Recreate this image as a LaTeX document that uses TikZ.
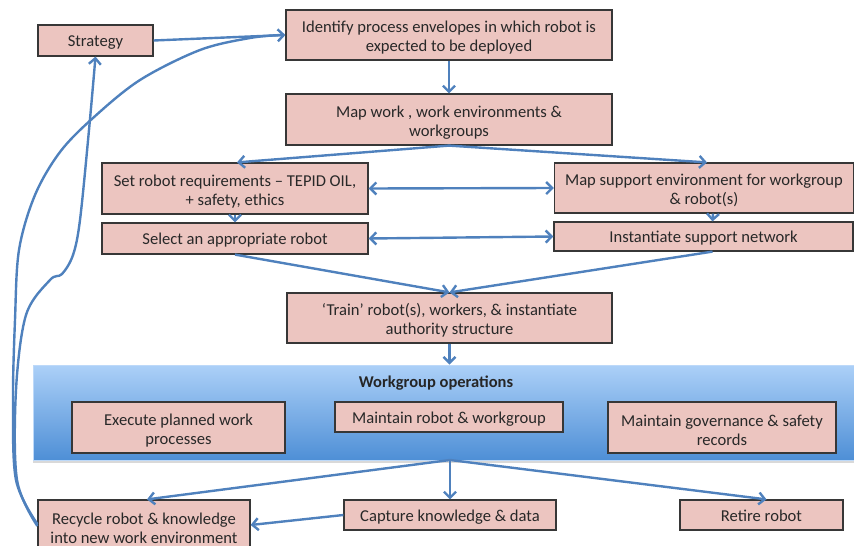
\documentclass[tikz,border=0pt]{standalone}
\usepackage{fontspec}
\setmainfont{Carlito}
\usetikzlibrary{arrows.meta,shadows,calc}
\definecolor{boxfill}{RGB}{236,197,192}
\definecolor{boxborder}{RGB}{55,55,55}
\definecolor{arrowblue}{RGB}{79,129,189}
\definecolor{textcol}{RGB}{40,40,40}
\definecolor{bandtop}{RGB}{172,208,248}
\definecolor{bandbot}{RGB}{78,143,214}
\newcommand\upstrut{\rule{0pt}{17pt}}
\tikzset{
  box/.style={draw=boxborder, fill=boxfill, line width=1.2pt, align=center,
    inner sep=1pt, text=textcol, font=\fontsize{16.6}{19}\selectfont},
  box1/.style={box, execute at begin node={\rule{0pt}{16pt}},
    execute at end node={\rule[-4pt]{0pt}{4pt}}},
  arr/.style={draw=arrowblue, line width=2.4pt,
    -{Straight Barb[length=6pt,width=12pt]}},
  darr/.style={draw=arrowblue, line width=2.4pt,
    {Straight Barb[length=6pt,width=12pt]}-{Straight Barb[length=6pt,width=12pt]}},
  curve/.style={draw=arrowblue, line width=2.4pt},
  band/.style={top color=bandtop, bottom color=bandbot, draw=bandtop!80!white,
    line width=0.8pt, inner sep=0pt,
    drop shadow={shadow xshift=0pt, shadow yshift=-3pt, opacity=0.3}},
}
\begin{document}
\begin{tikzpicture}[x=1pt,y=-1pt]
\useasboundingbox (0,0) rectangle (854,546);

% workgroup band
\node[band, minimum width=837pt, minimum height=95pt] (band) at (451.5,412.5) {};
\node[font=\fontsize{16.5}{19}\selectfont\bfseries, text=black!85] (wgtitle) at (436,383) {Workgroup operations};

% boxes
\node[box1, minimum width=115pt, minimum height=31pt] (strategy) at (95.5,40.5) {Strategy};
\node[box, minimum width=326pt, minimum height=50pt] (identify) at (449,35) {\upstrut Identify process envelopes in which robot is\\expected to be deployed};
\node[box, minimum width=326pt, minimum height=51pt] (mapwork) at (449,119.5) {\upstrut Map work , work environments \&\\workgroups};
\node[box, minimum width=266pt, minimum height=51pt] (setreq) at (235,188.5) {\upstrut Set robot requirements -- TEPID OIL,\\+ safety, ethics};
\node[box1, minimum width=266pt, minimum height=31pt] (select) at (235,238.5) {Select an appropriate robot};
\node[box, minimum width=299pt, minimum height=50pt] (mapsup) at (704,188) {\upstrut Map support environment for workgroup\\\& robot(s)};
\node[box1, minimum width=299pt, minimum height=29pt] (inst) at (703.5,236.5) {Instantiate support network};
\node[box, minimum width=325pt, minimum height=50pt] (train) at (449.5,318) {\upstrut `Train' robot(s), workers, \& instantiate\\authority structure};
\node[box, minimum width=213pt, minimum height=51pt] (execute) at (178.5,427.5) {\upstrut Execute planned work\\processes};
\node[box1, minimum width=228pt, minimum height=30pt] (maintain) at (449,417) {Maintain robot \& workgroup};
\node[box, minimum width=228pt, minimum height=51pt] (govern) at (722,427.5) {\upstrut Maintain governance \& safety\\records};
\node[box, minimum width=212pt, minimum height=56pt] (recycle) at (144,528) {Recycle robot \& knowledge\\into new work environment};
\node[box1, minimum width=212pt, minimum height=30pt] (capture) at (450,515) {Capture knowledge \& data};
\node[box1, minimum width=163pt, minimum height=30pt] (retire) at (761.5,515) {Retire robot};

\coordinate (bs) at (450,460);

% connectors
\draw[arr] (strategy.east) -- (identify.west);
\draw[arr] (identify.south) -- (mapwork.north);
\draw[arr] (mapwork.south) -- ($(setreq.north)+(2,0)$);
\draw[arr] (mapwork.south) -- ($(mapsup.north)+(3,0)$);
\draw[darr] (setreq.east) -- (mapsup.west);
\draw[arr] (setreq.south) -- (select.north);
\draw[darr] (select.east) -- (inst.west);
\draw[arr] ($(mapsup.south)+(9,0)$) -- ($(inst.north)+(9,0)$);
\draw[arr] (select.south) -- (train.north);
\draw[arr] ($(inst.south)+(9,0)$) -- (train.north);
\draw[arr] (train.south) -- (train.south |- band.north);
\draw[arr] (bs) -- ($(recycle.north)+(3,0)$);
\draw[arr] (bs) -- (capture.north);
\draw[arr] (bs) -- ($(retire.north)+(5,0)$);
\draw[arr] (capture.west) -- ($(recycle.east)+(0,-3)$);

% feedback curves
\draw[curve] plot[smooth, tension=0.55] coordinates {($(recycle.west)+(0,-4)$) (16,480) (13,400) (15,320) (19,250) (35,195) (60,152) (93,118) (140,80) (200,50) (250,38) ($(identify.west)+(-4,0)$)};
\draw[arr] plot[smooth, tension=0.55] coordinates {($(recycle.west)+(0,-2)$) (17,480) (16,390) (26,315) (50,280) (62,274) (73,255) (80,220) (89,130) (strategy.south)};
\end{tikzpicture}
\end{document}
